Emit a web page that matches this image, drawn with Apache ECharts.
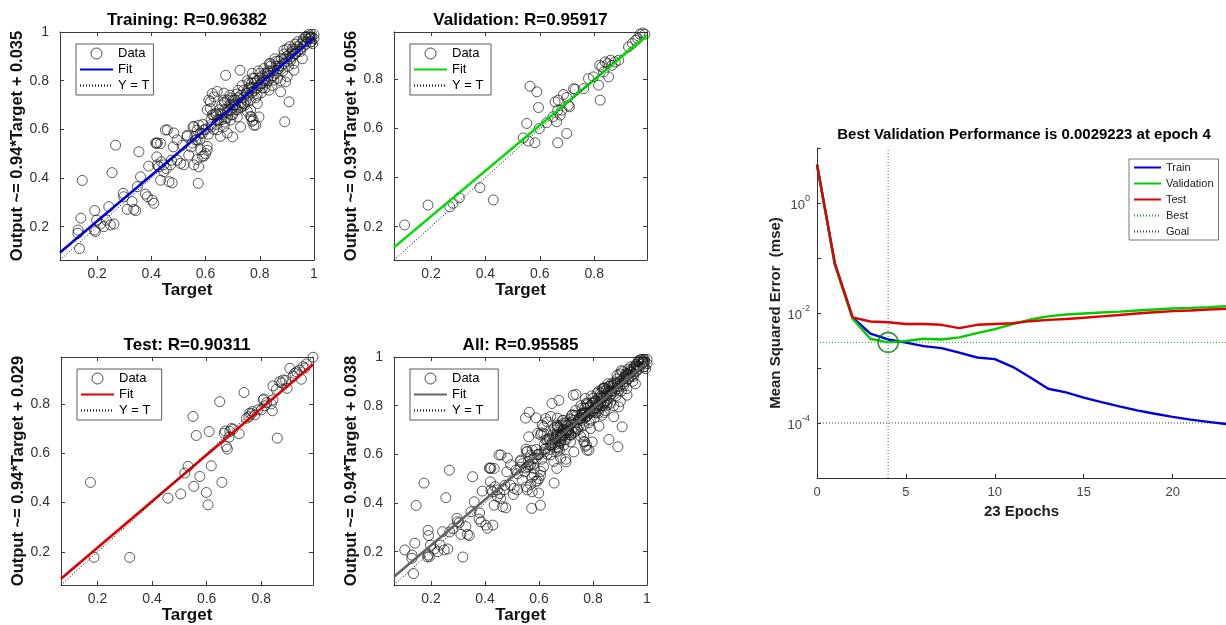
<!DOCTYPE html>
<html>
<head>
<meta charset="utf-8">
<script src="https://cdn.jsdelivr.net/npm/echarts@6/dist/echarts.min.js"></script>
<style>
html,body{margin:0;padding:0;background:#fff;}
#chart{width:1226px;height:625px;}
</style>
</head>
<body>
<div id="chart"></div>
<script>
// ---------------- DATA ----------------
const trainingData = [
[0.10,0.06],[0.135,0.11],[0.145,0.39],[0.14,0.235],[0.129,0.173],[0.13,0.186],[0.191,0.266],[0.198,0.227],[0.194,0.18],[0.19,0.186],
[0.212,0.211],[0.225,0.2],[0.234,0.227],[0.243,0.282],[0.249,0.207],[0.262,0.211],[0.268,0.535],[0.255,0.422],[0.296,0.337],[0.298,0.323],
[0.311,0.271],[0.329,0.303],[0.335,0.271],[0.342,0.266],[0.354,0.508],[0.348,0.364],[0.36,0.405],[0.378,0.334],[0.385,0.323],[0.39,0.449],
[0.403,0.309],[0.409,0.296],[0.419,0.542],[0.434,0.542],[0.42,0.487],[0.428,0.446],[0.434,0.391],[0.437,0.467],[0.446,0.426],[0.452,0.597],
[0.455,0.439],[0.465,0.385],[0.481,0.528],[0.477,0.38],[0.474,0.473],[0.495,0.473],[0.508,0.46],[0.514,0.535],[0.532,0.576],[0.538,0.494],
[0.547,0.528],[0.554,0.61],[0.569,0.597],[0.575,0.617],[0.573,0.378],[0.575,0.446],[0.569,0.476],[0.563,0.556],[0.588,0.583],[0.6,0.5],
[0.606,0.514],[0.612,0.72],[0.618,0.685],[0.631,0.733],[0.625,0.747],[0.621,0.61],[0.637,0.665],[0.643,0.638],[0.655,0.665],[0.668,0.72],
[0.674,0.822],[0.68,0.679],[0.692,0.638],[0.70,0.569],[0.705,0.72],[0.717,0.651],[0.727,0.843],[0.729,0.61],[0.741,0.706],[0.754,0.747],
[0.76,0.768],[0.766,0.679],[0.769,0.651],[0.776,0.638],[0.778,0.617],[0.785,0.617],[0.791,0.706],[0.797,0.651],[0.803,0.788],[0.815,0.802],
[0.828,0.829],[0.834,0.761],[0.84,0.87],[0.852,0.802],[0.865,0.843],[0.877,0.754],[0.889,0.925],[0.892,0.631],[0.895,0.795],[0.908,0.713],
[0.914,0.884],[0.926,0.843],[0.932,0.911],[0.957,0.89],[0.969,0.98],[0.988,0.959],[1.0,0.973],[0.995,0.952],
[0.65,0.64],[0.66,0.66],[0.67,0.68],[0.68,0.67],[0.69,0.70],[0.70,0.69],[0.71,0.72],[0.72,0.70],[0.73,0.74],[0.74,0.73],
[0.66,0.70],[0.68,0.72],[0.70,0.66],[0.72,0.76],[0.67,0.63],[0.69,0.74],[0.71,0.68],[0.73,0.71],[0.75,0.75],[0.76,0.74],
[0.76,0.77],[0.77,0.79],[0.78,0.76],[0.79,0.80],[0.80,0.78],[0.81,0.82],[0.82,0.80],[0.83,0.84],[0.84,0.81],[0.78,0.81],
[0.80,0.83],[0.82,0.77],[0.79,0.74],[0.81,0.79],[0.77,0.75],[0.83,0.80],[0.85,0.84],[0.84,0.86],[0.86,0.83],[0.86,0.86],
[0.87,0.88],[0.88,0.86],[0.89,0.89],[0.90,0.88],[0.91,0.91],[0.92,0.90],[0.93,0.93],[0.94,0.92],[0.95,0.95],[0.96,0.94],
[0.97,0.96],[0.98,0.97],[0.99,0.96],[0.97,0.98],[0.95,0.92],[0.93,0.95],[0.91,0.94],[0.89,0.91],[0.87,0.85],[0.96,0.97],
[0.98,0.99],[0.99,0.98],[0.92,0.93],[0.94,0.96],[0.90,0.93],[0.56,0.57],[0.58,0.56],[0.60,0.60],[0.62,0.62],[0.63,0.60],
[0.64,0.66],[0.61,0.58],[0.59,0.62],[0.772,0.83],[0.877,0.80],[0.901,0.817],[0.618,0.714],[0.606,0.68],[0.625,0.66],[0.643,0.756],
[0.668,0.749],[0.692,0.729],[0.705,0.701],[0.717,0.681],[0.735,0.695],[0.754,0.674],[0.766,0.653],[0.772,0.633],[0.643,0.598],[0.668,0.612],
[0.68,0.585],[0.655,0.571],[0.557,0.612],[0.582,0.585],[0.594,0.598],[0.459,0.598],[0.483,0.585],[0.495,0.557],[0.422,0.544],[0.416,0.544],
[0.532,0.571],[0.551,0.544],[0.569,0.557],[0.582,0.516],[0.606,0.53],[0.588,0.489],[0.422,0.454],[0.446,0.454],[0.471,0.454],[0.52,0.454],
[0.557,0.454],[0.594,0.49],
[0.62,0.64],[0.63,0.66],[0.64,0.62],[0.65,0.68],[0.66,0.64],[0.67,0.71],[0.68,0.65],[0.69,0.68],[0.70,0.72],[0.71,0.70],
[0.72,0.73],[0.73,0.69],[0.74,0.76],[0.75,0.72],[0.76,0.79],[0.77,0.77],[0.78,0.79],[0.79,0.77],[0.80,0.81],[0.81,0.77],
[0.82,0.83],[0.83,0.82],[0.84,0.84],[0.85,0.82],[0.86,0.88],[0.87,0.86],[0.88,0.89],[0.89,0.87],[0.90,0.90],[0.91,0.89],
[0.92,0.92],[0.93,0.91],[0.94,0.94],[0.95,0.93],[0.96,0.96],[0.97,0.95],[0.98,0.98],[0.99,0.99],[1.0,0.99],[0.985,0.975],
[0.745,0.70],[0.765,0.72],[0.785,0.73],[0.805,0.75],[0.825,0.79],[0.845,0.78],[0.865,0.81],[0.885,0.84],[0.905,0.86],[0.925,0.87],
[0.675,0.645],[0.695,0.66],[0.715,0.745],[0.735,0.78],[0.755,0.80],[0.775,0.81],[0.795,0.84],[0.815,0.85],[0.835,0.87],[0.855,0.89]
];
const validationData = [
[0.103,0.207],[0.189,0.288],[0.269,0.281],[0.281,0.295],[0.304,0.318],[0.38,0.359],[0.429,0.309],[0.539,0.562],[0.552,0.621],[0.558,0.549],
[0.564,0.773],[0.589,0.75],[0.582,0.542],[0.595,0.686],[0.598,0.6],[0.625,0.624],[0.648,0.648],[0.656,0.709],[0.662,0.628],[0.666,0.542],
[0.668,0.716],[0.675,0.655],[0.681,0.675],[0.687,0.739],[0.699,0.58],[0.705,0.695],[0.709,0.689],[0.699,0.727],[0.724,0.763],[0.761,0.763],
[0.779,0.804],[0.797,0.811],[0.816,0.777],[0.822,0.716],[0.828,0.852],[0.834,0.831],[0.853,0.811],[0.865,0.858],[0.877,0.872],[0.89,0.879],
[0.926,0.933],[0.968,0.985],[0.978,0.99],[0.986,0.985],[0.94,0.947],[0.952,0.96],[0.96,0.967],[0.85,0.865],[0.86,0.879],[0.84,0.872],
[0.82,0.858],[0.73,0.76],[0.666,0.675]
];
const testData = [
[0.174,0.482],[0.187,0.178],[0.318,0.178],[0.458,0.418],[0.505,0.435],[0.52,0.52],[0.532,0.547],[0.55,0.749],[0.553,0.466],[0.562,0.672],
[0.575,0.506],[0.599,0.441],[0.605,0.391],[0.609,0.688],[0.617,0.549],[0.648,0.809],[0.656,0.482],[0.664,0.681],[0.672,0.627],[0.676,0.617],
[0.682,0.665],[0.685,0.688],[0.697,0.698],[0.719,0.679],[0.737,0.846],[0.746,0.742],[0.758,0.762],[0.768,0.769],[0.776,0.755],[0.788,0.776],
[0.801,0.776],[0.807,0.816],[0.813,0.792],[0.843,0.816],[0.837,0.8],[0.841,0.772],[0.843,0.873],[0.856,0.859],[0.859,0.661],[0.868,0.89],
[0.88,0.897],[0.895,0.863],[0.905,0.944],[0.917,0.913],[0.923,0.924],[0.941,0.937],[0.947,0.9],[0.953,0.951],[0.966,0.962],[0.99,0.989],
[0.668,0.69],[0.69,0.70],[0.755,0.748],[0.765,0.76],[0.81,0.82],[0.82,0.805],[0.875,0.885],[0.89,0.895],[0.93,0.93],[0.96,0.945]
];
const allData = trainingData.concat(validationData, testData);

// panel titles, axis names, axis limits and fit-line endpoints (from the labelled regression equations)
const panelTitles = ['Training: R=0.96382', 'Validation: R=0.95917', 'Test: R=0.90311', 'All: R=0.95585'];
const panelYNames = ['Output ~= 0.94*Target + 0.035', 'Output ~= 0.93*Target + 0.056', 'Output ~= 0.94*Target + 0.029', 'Output ~= 0.94*Target + 0.038'];
const panelLimits = [[0.063, 1.0], [0.064, 0.994], [0.066, 0.99], [0.063, 1.0]];
const fitLines = [
  [[0.063, 0.094], [1.0, 0.975]],
  [[0.064, 0.1155], [0.994, 0.980]],
  [[0.066, 0.091], [0.99, 0.960]],
  [[0.063, 0.097], [1.0, 0.978]]
];
const fitColors = ['#0000dd', '#00dd00', '#e00000', '#646464'];

// performance plot
const epochs = [0,1,2,3,4,5,6,7,8,9,10,11,12,13,14,15,16,17,18,19,20,21,22,23];
const perfTrain = [5.0,0.08,0.0083,0.0042,0.0033,0.0029,0.0025,0.0023,0.0019,0.00155,0.00145,0.00105,0.00067,0.00042,0.00036,0.00029,0.00024,0.0002,0.00017,0.000147,0.000129,0.000115,0.000105,0.000096];
const perfValidation = [5.0,0.075,0.0079,0.0034,0.0029223,0.0031,0.0034,0.0033,0.0036,0.0043,0.0051,0.0063,0.0076,0.0087,0.0094,0.0098,0.0102,0.0106,0.0111,0.0116,0.0121,0.0124,0.0128,0.0133];
const perfTest = [5.0,0.08,0.0083,0.0070,0.0068,0.0063,0.0063,0.0061,0.0053,0.0061,0.0063,0.0065,0.0071,0.0075,0.0078,0.0082,0.0087,0.0092,0.0098,0.0103,0.0108,0.0111,0.0116,0.0119];
const bestEpoch = 4;
const bestPerf = 0.0029223;
const goalPerf = 0.0001;
const perfXLimits = [0, 23];
const perfYLimits = [1e-5, 10];
const perfTitle = 'Best Validation Performance is 0.0029223 at epoch 4';

// ---------------- LAYOUT ----------------
const FONT = "'Liberation Sans', Arial, Helvetica, sans-serif";
const grids = [
  {left: 60, top: 32, width: 254, height: 228},
  {left: 394, top: 32, width: 253, height: 228},
  {left: 61, top: 357, width: 252, height: 228},
  {left: 394, top: 357, width: 253, height: 228}
];
const panelDatasets = [trainingData, validationData, testData, allData];

const option = {
  animation: false,
  backgroundColor: '#ffffff',
  textStyle: {fontFamily: FONT},
  grid: [],
  xAxis: [],
  yAxis: [],
  series: [],
  legend: [],
  graphic: []
};

function tickFmt(v) {
  const r = Math.round(v * 5);
  if (Math.abs(v * 5 - r) > 1e-6) return '';
  return String(r / 5);
}
const hiddenSymbol = {color: 'rgba(0,0,0,0)', borderWidth: 0, opacity: 0};

const boxColor = '#3a3a3a';
grids.forEach((g, i) => {
  option.grid.push(Object.assign({containLabel: false}, g));
  const [mn, mx] = panelLimits[i];
  const common = {
    type: 'value', min: mn, max: mx, splitNumber: 5, gridIndex: i,
    splitLine: {show: false},
    axisLine: {show: true, lineStyle: {color: boxColor, width: 1}},
    axisTick: {show: true, inside: true, length: 4, lineStyle: {color: boxColor}}
  };
  option.xAxis.push(Object.assign({}, common, {
    position: 'bottom',
    name: 'Target', nameLocation: 'middle', nameGap: 18,
    nameTextStyle: {fontSize: 17, fontWeight: 'bold', color: '#111', fontFamily: FONT},
    axisLabel: {formatter: tickFmt, fontSize: 14, color: '#333', margin: 7, fontFamily: FONT}
  }));
  option.xAxis.push(Object.assign({}, common, {position: 'top', axisLabel: {show: false}}));
  option.yAxis.push(Object.assign({}, common, {
    position: 'left',
    name: panelYNames[i], nameLocation: 'middle', nameGap: 30, nameRotate: 90,
    nameTextStyle: {fontSize: 16.5, fontWeight: 'bold', color: '#111', fontFamily: FONT},
    axisLabel: {formatter: tickFmt, fontSize: 14, color: '#333', margin: 11, fontFamily: FONT}
  }));
  option.yAxis.push(Object.assign({}, common, {position: 'right', axisLabel: {show: false}}));

  const sfx = ' '.repeat(i);
  option.series.push({
    name: 'Data' + sfx, type: 'scatter', xAxisIndex: 2 * i, yAxisIndex: 2 * i,
    data: panelDatasets[i], symbol: 'circle', symbolSize: 10, silent: true,
    itemStyle: {color: 'rgba(0,0,0,0)', borderColor: '#1a1a1a', borderWidth: 0.9}
  });
  option.series.push({
    name: 'Fit' + sfx, type: 'line', xAxisIndex: 2 * i, yAxisIndex: 2 * i,
    data: fitLines[i], symbol: 'none', silent: true,
    lineStyle: {color: fitColors[i], width: 2.6}, itemStyle: {color: fitColors[i]}
  });
  option.series.push({
    name: 'Y = T' + sfx, type: 'line', xAxisIndex: 2 * i, yAxisIndex: 2 * i,
    data: [[mn, mn], [mx, mx]], symbol: 'none', silent: true,
    lineStyle: {color: '#000', width: 1, type: [1, 2]}, itemStyle: {color: '#000'}
  });
  option.legend.push({
    orient: 'vertical', left: g.left + 16, top: g.top + 12,
    data: [
      {name: 'Data' + sfx, icon: 'circle', itemStyle: {color: 'rgba(0,0,0,0)', borderColor: '#1a1a1a', borderWidth: 1}},
      {name: 'Fit' + sfx, itemStyle: hiddenSymbol},
      {name: 'Y = T' + sfx, itemStyle: hiddenSymbol}
    ],
    itemWidth: 33, itemHeight: 11, itemGap: 3,
    padding: [3, 4, 3, 3],
    backgroundColor: '#fff', borderColor: '#333', borderWidth: 0.8, borderRadius: 0,
    selectedMode: false,
    textStyle: {fontSize: 13, color: '#000', fontFamily: FONT}
  });
  option.graphic.push({
    type: 'text', x: g.left + g.width / 2, y: g.top - 12, silent: true,
    style: {text: panelTitles[i], font: "bold 17px " + FONT, fill: '#000', align: 'center', verticalAlign: 'middle'}
  });
});

// performance plot
option.grid.push({left: 817, top: 148, right: -5, bottom: 147, containLabel: false});
option.xAxis.push({
  type: 'value', gridIndex: 4, min: perfXLimits[0], max: perfXLimits[1], interval: 5,
  name: '23 Epochs', nameLocation: 'middle', nameGap: 26,
  nameTextStyle: {fontSize: 15, fontWeight: 'bold', color: '#222', fontFamily: FONT},
  axisLine: {show: true, lineStyle: {color: '#333'}},
  axisTick: {show: true, inside: true, length: 4, lineStyle: {color: '#333'}},
  splitLine: {show: false},
  axisLabel: {formatter: v => (v % 5 === 0 ? String(v) : ''), showMaxLabel: false, fontSize: 13, color: '#444', margin: 8, fontFamily: FONT}
});
option.yAxis.push({
  type: 'log', logBase: 10, gridIndex: 4, min: perfYLimits[0], max: perfYLimits[1],
  name: 'Mean Squared Error  (mse)', nameLocation: 'middle', nameGap: 33, nameRotate: 90,
  nameTextStyle: {fontSize: 15, fontWeight: 'bold', color: '#222', fontFamily: FONT},
  axisLine: {show: true, lineStyle: {color: '#333'}},
  axisTick: {show: true, inside: true, length: 4, lineStyle: {color: '#333'}},
  splitLine: {show: false},
  axisLabel: {
    margin: 7,
    formatter: v => {
      const e = Math.round(Math.log10(v));
      if (e % 2 !== 0) return '';
      return '{b|10}{s|' + e + '}';
    },
    rich: {
      b: {fontSize: 13, color: '#444', fontFamily: FONT, lineHeight: 18, verticalAlign: 'bottom'},
      s: {fontSize: 9, color: '#444', fontFamily: FONT, lineHeight: 18, verticalAlign: 'top'}
    }
  }
});
const pairs = arr => epochs.map((e, k) => [e, arr[k]]);
const bestStyle = {color: '#22a022', width: 1, type: [1, 2]};
const goalStyle = {color: '#333', width: 1, type: [1, 2]};
option.series.push({
  name: 'Best', type: 'line', xAxisIndex: 8, yAxisIndex: 8, symbol: 'none', silent: true,
  data: [[perfXLimits[0], bestPerf], [perfXLimits[1], bestPerf]],
  lineStyle: bestStyle, itemStyle: {color: '#22a022'}
});
option.series.push({
  name: 'Best', type: 'line', xAxisIndex: 8, yAxisIndex: 8, symbol: 'none', silent: true,
  data: [[bestEpoch, perfYLimits[0]], [bestEpoch, perfYLimits[1]]],
  lineStyle: bestStyle, itemStyle: {color: '#22a022'}
});
option.series.push({
  name: 'Goal', type: 'line', xAxisIndex: 8, yAxisIndex: 8, symbol: 'none', silent: true,
  data: [[perfXLimits[0], goalPerf], [perfXLimits[1], goalPerf]],
  lineStyle: goalStyle, itemStyle: {color: '#333'}
});
option.series.push({
  name: 'Train', type: 'line', xAxisIndex: 8, yAxisIndex: 8, data: pairs(perfTrain), symbol: 'none', silent: true,
  lineStyle: {color: '#0000dd', width: 2.4}, itemStyle: {color: '#0000dd'}
});
option.series.push({
  name: 'Validation', type: 'line', xAxisIndex: 8, yAxisIndex: 8, data: pairs(perfValidation), symbol: 'none', silent: true,
  lineStyle: {color: '#00cc00', width: 2.4}, itemStyle: {color: '#00cc00'}
});
option.series.push({
  name: 'Test', type: 'line', xAxisIndex: 8, yAxisIndex: 8, data: pairs(perfTest), symbol: 'none', silent: true,
  lineStyle: {color: '#e00000', width: 2.4}, itemStyle: {color: '#e00000'}
});
option.series.push({
  name: 'bestPoint', type: 'scatter', xAxisIndex: 8, yAxisIndex: 8, data: [[bestEpoch, bestPerf]],
  symbol: 'circle', symbolSize: 20, silent: true, z: 5,
  itemStyle: {color: 'rgba(0,0,0,0)', borderColor: '#0a7a0a', borderWidth: 1.6}
});
option.legend.push({
  orient: 'vertical', left: 1129, top: 159,
  data: ['Train', 'Validation', 'Test', 'Best', 'Goal'].map(n => ({name: n, itemStyle: hiddenSymbol})),
  itemWidth: 27, itemHeight: 12, itemGap: 5,
  padding: [3, 5, 3, 4],
  backgroundColor: '#fff', borderColor: '#555', borderWidth: 0.8,
  selectedMode: false,
  textStyle: {fontSize: 11, color: '#222', fontFamily: FONT}
});
option.graphic.push({
  type: 'text', x: 1024, y: 135, silent: true,
  style: {text: perfTitle, font: "bold 15px " + FONT, fill: '#000', align: 'center', verticalAlign: 'middle'}
});

const chart = echarts.init(document.getElementById('chart'), null, {renderer: 'canvas'});
chart.setOption(option);
</script>
</body>
</html>
